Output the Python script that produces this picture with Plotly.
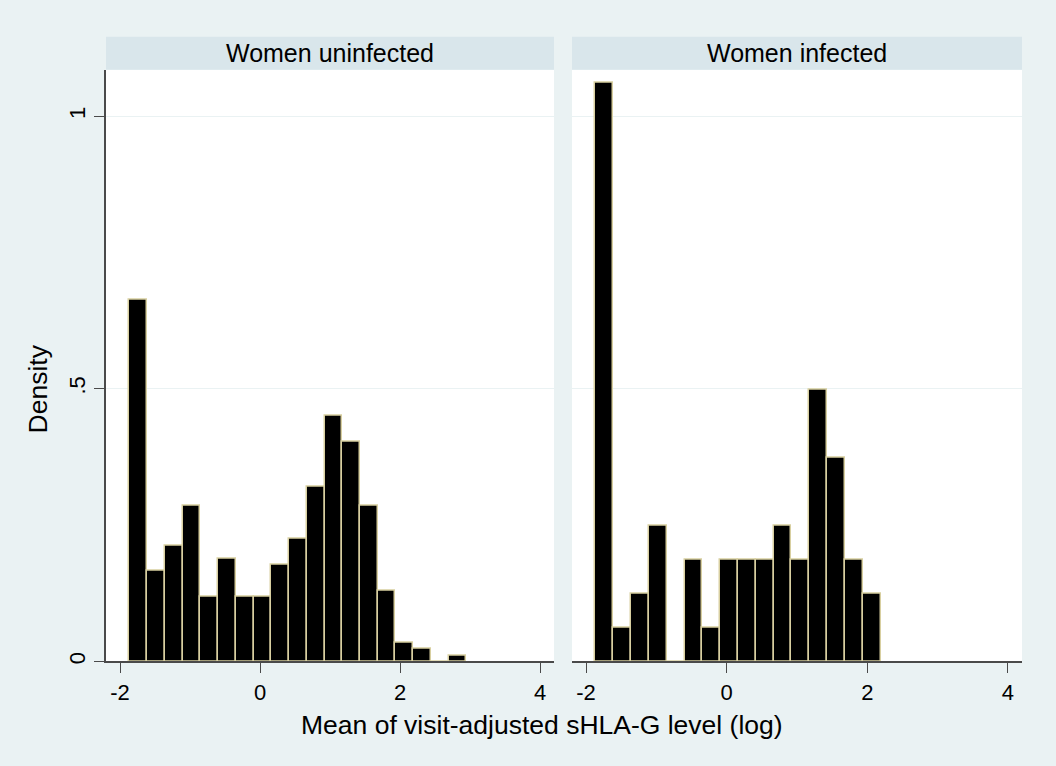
import plotly.graph_objects as go

# ---- data ----
panels = ["Women uninfected", "Women infected"]
bin_start = -1.867
bin_width = 0.2535
density_uninfected = [0.664, 0.166, 0.212, 0.285, 0.118, 0.189, 0.118, 0.118, 0.178,
                      0.225, 0.320, 0.451, 0.403, 0.285, 0.130, 0.035, 0.023, 0.0, 0.011]
density_infected = [1.061, 0.062, 0.124, 0.248, 0.0, 0.187, 0.062, 0.187, 0.187,
                    0.187, 0.248, 0.187, 0.498, 0.374, 0.187, 0.124]
x_ticks = [-2, 0, 2, 4]
x_ticktext = ["-2", "0", "2", "4"]
y_ticks = [0, 0.5, 1]
y_ticktext = ["0", ".5", "1"]
x_title = "Mean of visit-adjusted sHLA-G level (log)"
y_title = "Density"

W, H = 1056, 766
BG = "#EAF2F3"
STRIP = "#D9E6EB"
OUTLINE = "#D8CFA0"
AXC = "#4a4a4a"
FONT = "Liberation Sans, Arial, Helvetica, sans-serif"


def centers(vals):
    return [bin_start + bin_width * (i + 0.5) for i in range(len(vals))]


fig = go.Figure()
for k, vals in enumerate([density_uninfected, density_infected]):
    fig.add_trace(go.Bar(
        x=centers(vals), y=vals, width=bin_width,
        marker=dict(color="black", line=dict(color=OUTLINE, width=1.5)),
        xaxis="x" if k == 0 else "x2", yaxis="y" if k == 0 else "y2",
        showlegend=False, hoverinfo="x+y",
    ))

px = lambda v: v / W
py = lambda v: 1 - v / H

left = (106, 554)
right = (572, 1022)
top, bottom = 70, 664
strip_top = 37

common_x = dict(range=[-2.2, 4.2], tickvals=x_ticks, ticktext=x_ticktext,
                ticks="outside", ticklen=10,
                tickwidth=1.3, tickcolor=AXC, showline=True, linecolor=AXC, linewidth=1.5,
                showgrid=False, zeroline=False, fixedrange=True,
                tickfont=dict(family=FONT, size=22, color="black"))
common_y = dict(range=[0, 1.085], tickvals=y_ticks, showgrid=True, gridcolor=BG,
                gridwidth=1.2, zeroline=False, fixedrange=True)

fig.update_layout(
    width=W, height=H,
    margin=dict(l=0, r=0, t=0, b=0),
    paper_bgcolor=BG, plot_bgcolor="white",
    bargap=0,
    font=dict(family=FONT, color="black"),
    xaxis=dict(domain=[px(left[0]), px(left[1])], anchor="y", **common_x),
    xaxis2=dict(domain=[px(right[0]), px(right[1])], anchor="y2", **common_x),
    yaxis=dict(domain=[py(bottom), py(top)], anchor="x", ticktext=y_ticktext,
               ticks="outside", ticklen=10, tickwidth=1.3, tickcolor=AXC,
               showline=True, linecolor=AXC, linewidth=1.5, tickangle=-90,
               tickfont=dict(family=FONT, size=22, color="black"), **common_y),
    yaxis2=dict(domain=[py(bottom), py(top)], anchor="x2", showticklabels=False,
                ticks="", showline=False, **common_y),
)

shapes = []
annotations = []
for (x0, x1), name in zip([left, right], panels):
    shapes.append(dict(type="rect", xref="paper", yref="paper",
                       x0=px(x0), x1=px(x1), y0=py(top), y1=py(strip_top),
                       fillcolor=STRIP, line=dict(width=0), layer="below"))
    annotations.append(dict(xref="paper", yref="paper", x=px((x0 + x1) / 2),
                            y=py((top + strip_top) / 2), text=name, showarrow=False,
                            xanchor="center", yanchor="middle",
                            font=dict(family=FONT, size=25, color="black")))

annotations.append(dict(xref="paper", yref="paper", x=px(542), y=py(728), text=x_title,
                        showarrow=False, xanchor="center", yanchor="middle",
                        font=dict(family=FONT, size=26.5, color="black")))
annotations.append(dict(xref="paper", yref="paper", x=px(38), y=py(391), text=y_title,
                        showarrow=False, xanchor="center", yanchor="middle", textangle=-90,
                        font=dict(family=FONT, size=26.5, color="black")))

fig.update_layout(shapes=shapes, annotations=annotations)

fig.write_html("out.html", config={"displayModeBar": False},
               post_script="document.body.style.margin='0px';document.body.style.padding='0px';")
